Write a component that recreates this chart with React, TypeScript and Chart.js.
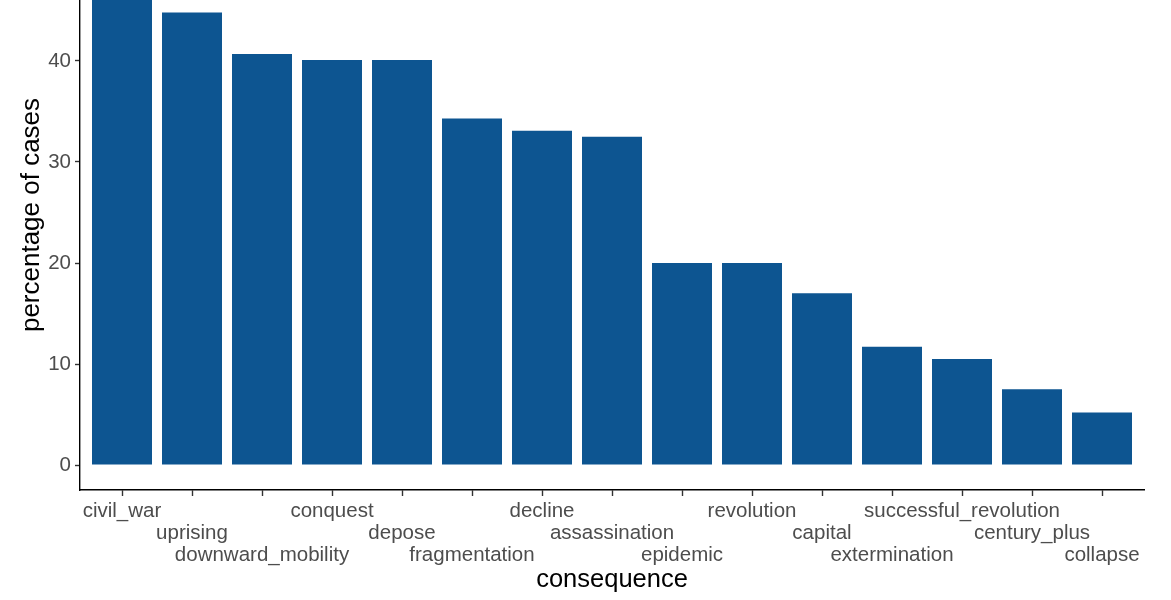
import React, { useEffect, useRef } from "react";
import { Chart, registerables } from "chart.js";

Chart.register(...registerables);

const categories = [
  "civil_war",
  "uprising",
  "downward_mobility",
  "conquest",
  "depose",
  "fragmentation",
  "decline",
  "assassination",
  "epidemic",
  "revolution",
  "capital",
  "extermination",
  "successful_revolution",
  "century_plus",
  "collapse",
];

const percentages = [49.5, 44.8, 40.7, 40.1, 40.1, 34.3, 33.1, 32.5, 20.0, 20.0, 17.0, 11.7, 10.5, 7.5, 5.2];

const yTickValues = [0, 10, 20, 30, 40, 50];

const FONT = "'Liberation Sans', Arial, Helvetica, sans-serif";

export default function App() {
  const canvasRef = useRef<HTMLCanvasElement | null>(null);

  useEffect(() => {
    if (!canvasRef.current) return;
    const chart = new Chart(canvasRef.current, {
      type: "bar",
      data: {
        datasets: [
          {
            data: percentages.map((v, i) => ({ x: i, y: v })),
            backgroundColor: "#0d5591",
            borderWidth: 0,
            barPercentage: 60 / 70,
            categoryPercentage: 1,
          },
        ],
      },
      options: {
        animation: false,
        responsive: true,
        maintainAspectRatio: false,
        devicePixelRatio: 1,
        layout: { padding: { left: 0, right: 27, top: 0, bottom: 0 } },
        plugins: {
          legend: { display: false },
          tooltip: { enabled: false },
        },
        scales: {
          x: {
            type: "linear",
            offset: false,
            min: -0.6,
            max: categories.length - 1 + 0.6,
            afterBuildTicks: (scale: any) => {
              scale.ticks = categories.map((_, i) => ({ value: i }));
            },
            afterFit: (scale: any) => {
              scale.height = 110;
              scale.paddingLeft = 0;
              scale.paddingRight = 0;
            },
            border: { display: true, color: "#000000", width: 1.4 },
            grid: {
              display: true,
              offset: false,
              drawOnChartArea: false,
              drawTicks: true,
              tickLength: 6,
              tickColor: "#333333",
              tickWidth: 1.4,
            },
            ticks: {
              autoSkip: false,
              maxRotation: 0,
              minRotation: 0,
              padding: 4,
              color: "#4d4d4d",
              font: { family: FONT, size: 20.5, lineHeight: 1.08 },
              callback: (value: any) => {
                const i = Math.round(Number(value));
                const label = categories[i] ?? "";
                const row = i % 3;
                const lines: string[] = [];
                for (let k = 0; k < row; k++) lines.push("");
                lines.push(label);
                return lines;
              },
            },
            title: {
              display: true,
              text: "consequence",
              color: "#000000",
              font: { family: FONT, size: 25.5, lineHeight: 1.2 },
              padding: { top: 0, bottom: 5 },
            },
          },
          y: {
            type: "linear",
            min: -2.475,
            max: 51.98,
            afterBuildTicks: (scale: any) => {
              scale.ticks = yTickValues.map((v) => ({ value: v }));
            },
            afterFit: (scale: any) => {
              scale.width = 80;
              scale.paddingTop = 0;
              scale.paddingBottom = 0;
            },
            border: { display: true, color: "#000000", width: 1.4 },
            grid: {
              display: true,
              drawOnChartArea: false,
              drawTicks: true,
              tickLength: 5,
              tickColor: "#333333",
              tickWidth: 1.4,
            },
            ticks: {
              padding: 4,
              color: "#4d4d4d",
              font: { family: FONT, size: 20.5 },
              callback: (value: any) => String(value),
            },
            title: {
              display: true,
              text: "percentage of cases",
              color: "#000000",
              font: { family: FONT, size: 26, lineHeight: 1.2 },
              padding: { top: 16, bottom: 0 },
            },
          },
        },
      },
    });
    return () => chart.destroy();
  }, []);

  return (
    <div
      style={{
        position: "absolute",
        left: 0,
        top: 0,
        width: 1171,
        height: 600,
        overflow: "hidden",
        background: "#ffffff",
      }}
    >
      <div style={{ position: "absolute", left: 0, top: -60, width: 1171, height: 660 }}>
        <canvas ref={canvasRef} />
      </div>
    </div>
  );
}
